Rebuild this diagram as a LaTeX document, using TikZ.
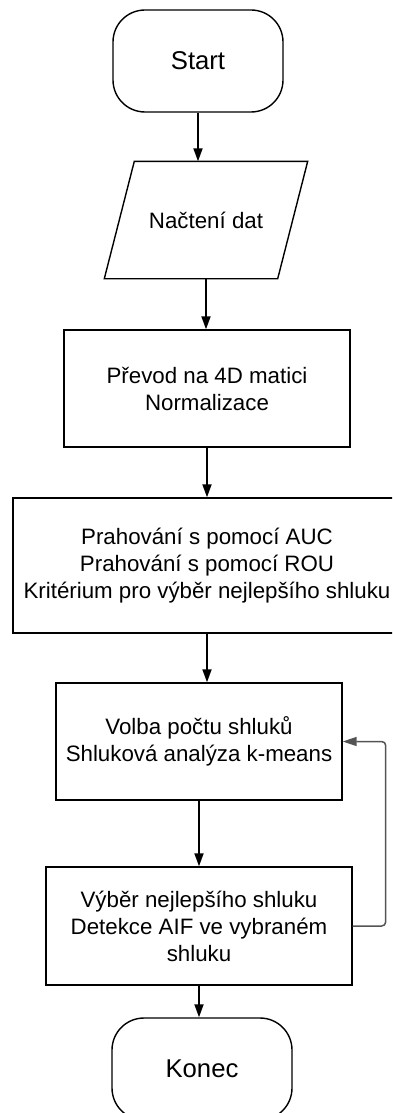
\documentclass[tikz,border=0pt]{standalone}
\usepackage{fontspec}
\setmainfont{Liberation Sans}
\usetikzlibrary{arrows.meta}

\colorlet{LoopLine}{black!67}

\begin{document}
\begin{tikzpicture}[x=1pt, y=-1pt,
    box/.style={draw, line width=1.4pt, rectangle, align=center, inner sep=0pt,
        font=\fontsize{22.3}{27}\selectfont},
    terminal/.style={box, rounded corners=32pt, minimum width=170pt,
        minimum height=102pt, font=\fontsize{25.7}{30}\selectfont},
    flow/.style={-{Triangle[length=13pt,width=9pt]}, line width=1.8pt}]

    \useasboundingbox (0,0) rectangle (392,1113);
    \clip (0,0) rectangle (392,1113);

    \def\skew{15pt}

    \node[terminal] (start) at (198,61) {Start};
    \node[box, draw=none, minimum width=172pt, minimum height=116pt] (load) at (206,220)
        {Načtení dat};
    \draw[line width=1.4pt]
        ([xshift=-\skew]load.south west) -- ([xshift=-\skew]load.south east) --
        ([xshift=\skew]load.north east) -- ([xshift=\skew]load.north west) -- cycle;
    \node[box, minimum width=286pt, minimum height=117pt] (convert) at (207,388.5)
        {Převod na 4D matici\\Normalizace};
    \node[box, minimum width=388pt, minimum height=135pt] (threshold) at (207,565.5)
        {Prahování s pomocí AUC\\Prahování s pomocí ROU\\Kritérium pro výběr nejlepšího shluku};
    \node[box, minimum width=286pt, minimum height=117pt] (cluster) at (199,741.5)
        {Volba počtu shluků\\Shluková analýza k-means};
    \node[box, minimum width=306pt, minimum height=118pt] (select) at (199,926)
        {Výběr nejlepšího shluku\\Detekce AIF ve vybraném\\shluku};
    \node[terminal, minimum width=180pt] (stop) at (202,1069) {Konec};

    \draw[flow] (start.south) -- (start.south |- load.north);
    \draw[flow] (load.south) -- (load.south |- convert.north);
    \draw[flow] (convert.south) -- (threshold.north);
    \draw[flow] (threshold.south) -- (threshold.south |- cluster.north);
    \draw[flow] (cluster.south) -- (select.north);
    \draw[flow] (select.south) -- (select.south |- stop.north);

    % zpetna vazba
    \draw[-{Triangle[length=14pt,width=9pt]}, LoopLine, line width=1.5pt, rounded corners=4pt]
        (select.east) -- ++(33,0) |- (cluster.east);

\end{tikzpicture}
\end{document}
